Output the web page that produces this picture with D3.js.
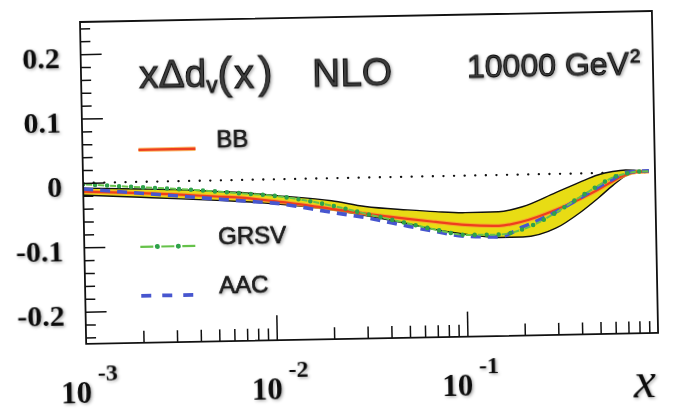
<!DOCTYPE html>
<html>
<head>
<meta charset="utf-8">
<script src="https://cdn.jsdelivr.net/npm/d3@7"></script>
<style>
  html, body { margin: 0; padding: 0; background: #fff; }
  svg { display: block; }
</style>
</head>
<body>
<svg id="chart" width="673" height="410"></svg>
<script>
// x grid shared by all curves
const xValues = [0.001, 0.002, 0.003, 0.005, 0.007, 0.01, 0.02, 0.03, 0.05, 0.07,
                 0.1, 0.15, 0.2, 0.3, 0.4, 0.5, 0.6, 0.7, 0.8, 0.93];

// x*Delta d_v(x) at Q^2 = 10000 GeV^2
const bbValues   = [-0.0135, -0.0175, -0.0205, -0.025, -0.028, -0.034, -0.0475, -0.056, -0.0655, -0.071,
                    -0.0765, -0.079, -0.073, -0.0557, -0.040, -0.026, -0.013, -0.0034, 0.0005, 0.001];
const grsvValues = [-0.002, -0.0084, -0.0118, -0.0172, -0.0212, -0.0256, -0.0425, -0.056, -0.0725, -0.083,
                    -0.092, -0.0925, -0.085, -0.060, -0.037, -0.020, -0.0072, -0.0018, 0.001, 0.0015];
const aacValues  = [-0.0093, -0.0177, -0.0226, -0.0288, -0.0329, -0.037, -0.053, -0.0623, -0.0767, -0.086,
                    -0.0941, -0.096, -0.0815, -0.059, -0.0386, -0.022, -0.0097, -0.0001, 0.0015, 0.002];

// BB uncertainty band
const bandLower  = [-0.019, -0.024, -0.027, -0.031, -0.034, -0.038, -0.049, -0.059, -0.073, -0.083,
                    -0.091, -0.097, -0.097, -0.084, -0.061, -0.039, -0.0195, -0.005, 0.000, 0.001];
const bandUpper  = [-0.008, -0.011, -0.013, -0.017, -0.020, -0.025, -0.035, -0.045, -0.0515, -0.055,
                    -0.0575, -0.057, -0.050, -0.029, -0.014, -0.003, 0.002, 0.004, 0.003, 0.0015];

// axis ticks and labels
const yMajorTicks = [-0.2, -0.1, 0, 0.1, 0.2];
const xMajorTicks = [0.001, 0.01, 0.1];
const xTickExponents = ["-3", "-2", "-1"];
const legendLabels = ["BB", "GRSV", "AAC"];

const W = 572, H = 322;
const svg = d3.select("#chart");
const defs = svg.append("defs");
defs.append("filter").attr("id", "shadow")
  .attr("x", "-20%").attr("y", "-30%").attr("width", "140%").attr("height", "160%")
  .append("feDropShadow")
  .attr("dx", 1.3).attr("dy", 1.3).attr("stdDeviation", 1.4)
  .attr("flood-color", "#000").attr("flood-opacity", 0.35);
defs.append("clipPath").attr("id", "plotClip")
  .append("rect").attr("width", W).attr("height", H);

// whole frame sits slightly tilted on the page
const g = svg.append("g").attr("transform", "translate(80,22) rotate(-1.1)");

const x = d3.scaleLog().domain([1e-3, 1]).range([0, W]);
const y = d3.scaleLinear().domain([-0.25, 0.25]).range([H, 0]);

const COLORS = { bb: "#ee3e1e", bbGlow: "#f8a030", grsvDot: "#2ea24a", grsvDash: "#66c24a",
                 aac: "#4756cf", band: "#e8dc14" };

// ---- plot content ----
const plot = g.append("g").attr("clip-path", "url(#plotClip)");

// zero reference line
plot.append("line")
  .attr("x1", 0).attr("x2", W).attr("y1", y(0)).attr("y2", y(0))
  .attr("stroke", "#111").attr("stroke-width", 2.3)
  .attr("stroke-dasharray", "0.1 10.5").attr("stroke-linecap", "round");

const idx = d3.range(xValues.length);
const band = d3.area()
  .x(i => x(xValues[i]))
  .y0(i => y(bandLower[i]))
  .y1(i => y(bandUpper[i]))
  .curve(d3.curveMonotoneX);
plot.append("path").attr("d", band(idx)).attr("fill", COLORS.band);

const lineOf = arr => d3.line()
  .x(i => x(xValues[i]))
  .y(i => y(arr[i]))
  .curve(d3.curveMonotoneX)(idx);

[bandUpper, bandLower].forEach(arr => {
  plot.append("path").attr("d", lineOf(arr))
    .attr("fill", "none").attr("stroke", "#111").attr("stroke-width", 1.4);
});

// BB
const bbPath = lineOf(bbValues);
plot.append("path").attr("d", bbPath)
  .attr("fill", "none").attr("stroke", COLORS.bbGlow).attr("stroke-width", 4.2).attr("opacity", 0.8);
plot.append("path").attr("d", bbPath)
  .attr("fill", "none").attr("stroke", COLORS.bb).attr("stroke-width", 2.2);

// AAC
plot.append("path").attr("d", lineOf(aacValues))
  .attr("fill", "none").attr("stroke", COLORS.aac).attr("stroke-width", 3.6)
  .attr("stroke-dasharray", "10 7");

// GRSV: light dashes with round dots between
const grsvPath = lineOf(grsvValues);
plot.append("path").attr("d", grsvPath)
  .attr("fill", "none").attr("stroke", COLORS.grsvDash).attr("stroke-width", 2)
  .attr("stroke-dasharray", "6 6").attr("stroke-dashoffset", 9);
plot.append("path").attr("d", grsvPath)
  .attr("fill", "none").attr("stroke", COLORS.grsvDot).attr("stroke-width", 4.6)
  .attr("stroke-dasharray", "0 12").attr("stroke-linecap", "round");

// ---- axes ----
const styleTicks = sel => {
  sel.select(".domain").remove();
  sel.selectAll(".tick line").attr("stroke", "#111").attr("stroke-width", 1.5);
};

const yMinor = d3.range(-12, 13).filter(i => i % 5 !== 0).map(i => i * 0.02);
g.append("g")
  .call(d3.axisLeft(y).tickValues(yMinor).tickSize(-10).tickFormat(""))
  .call(styleTicks);
g.append("g")
  .call(d3.axisLeft(y).tickValues(yMajorTicks).tickSize(-21).tickPadding(21)
    .tickFormat(d => d === 0 ? "0" : d.toFixed(1)))
  .call(styleTicks)
  .call(sel => sel.selectAll(".tick text")
    .attr("dy", "0.42em")
    .attr("fill", "#111")
    .attr("font-family", "'Liberation Serif', 'Times New Roman', serif")
    .attr("font-weight", "bold")
    .attr("font-size", 30)
    .attr("filter", "url(#shadow)"));

const xMinor = xMajorTicks.flatMap(d => d3.range(2, 10).map(k => k * d));
g.append("g").attr("transform", `translate(0,${H})`)
  .call(d3.axisBottom(x).tickValues(xMinor).tickSize(-12).tickFormat(""))
  .call(styleTicks);
g.append("g").attr("transform", `translate(0,${H})`)
  .call(d3.axisBottom(x).tickValues(xMajorTicks.slice(1)).tickSize(-25).tickFormat(""))
  .call(styleTicks);

// decade labels 10^n
const xl = g.append("g")
  .attr("font-family", "'Liberation Serif', 'Times New Roman', serif")
  .attr("font-weight", "bold").attr("fill", "#111").attr("filter", "url(#shadow)");
xMajorTicks.forEach((d, i) => {
  const t = xl.append("text").attr("x", x(d) - 26).attr("y", H + 59).attr("font-size", 31);
  t.append("tspan").text("10");
  t.append("tspan").attr("dx", 6).attr("dy", -22).attr("font-size", 24).text(xTickExponents[i]);
});

// axis title x
g.append("text")
  .attr("x", W - 3).attr("y", H + 64)
  .attr("text-anchor", "end")
  .attr("font-family", "'Liberation Serif', 'Times New Roman', serif")
  .attr("font-style", "italic").attr("font-size", 50)
  .attr("fill", "#111").attr("filter", "url(#shadow)")
  .text("x");

// frame
g.append("rect").attr("width", W).attr("height", H)
  .attr("fill", "none").attr("stroke", "#111").attr("stroke-width", 1.8);

// ---- titles ----
const titleStyle = sel => sel
  .attr("font-family", "'Liberation Sans', Arial, sans-serif")
  .attr("fill", "#3c3c3c").attr("stroke", "#000").attr("stroke-width", 0.9)
  .attr("filter", "url(#shadow)");

const t1 = g.append("text").attr("x", 58).attr("y", 67).attr("font-size", 39).call(titleStyle);
t1.append("tspan").text("x\u0394d");
t1.append("tspan").attr("font-size", 22).attr("dy", 6).text("v");
t1.append("tspan").attr("font-size", 44).attr("dy", -4).text("(");
t1.append("tspan").attr("font-size", 40).attr("dx", 2).text("x");
t1.append("tspan").attr("font-size", 44).attr("dx", 4).text(")");

g.append("text").attr("x", 231).attr("y", 69).attr("font-size", 39).call(titleStyle).text("NLO");

const t3 = g.append("text").attr("x", 386).attr("y", 63).attr("font-size", 32).call(titleStyle);
t3.append("tspan").text("10000 GeV");
t3.append("tspan").attr("font-size", 19).attr("dy", -12).attr("dx", 1).text("2");

// ---- legend ----
const legend = g.append("g");
const legendRows = [
  { v: 129, draw: (sel) => {
      sel.append("line").attr("stroke", COLORS.bbGlow).attr("stroke-width", 4.4).attr("opacity", 0.7);
      sel.append("line").attr("stroke", COLORS.bb).attr("stroke-width", 2.4);
    } },
  { v: 226, draw: (sel) => {
      sel.append("line").attr("stroke", COLORS.grsvDash).attr("stroke-width", 2.2)
        .attr("stroke-dasharray", "13 8").attr("stroke-dashoffset", 0);
      sel.append("line").attr("stroke", COLORS.grsvDot).attr("stroke-width", 5)
        .attr("stroke-dasharray", "0 21").attr("stroke-dashoffset", -17)
        .attr("stroke-linecap", "round");
    } },
  { v: 275, draw: (sel) => sel.append("line").attr("stroke", COLORS.aac).attr("stroke-width", 3.8)
        .attr("stroke-dasharray", "10 11") }
];
legendRows.forEach((row, i) => {
  const r = legend.append("g");
  row.draw(r);
  r.selectAll("line").attr("x1", 56).attr("x2", 113).attr("y1", row.v).attr("y2", row.v);
  r.append("text")
    .attr("x", 134).attr("y", row.v - 1)
    .attr("font-family", "'Liberation Sans', Arial, sans-serif")
    .attr("font-size", 24)
    .attr("fill", "#222").attr("stroke", "#000").attr("stroke-width", 0.6)
    .attr("filter", "url(#shadow)")
    .text(legendLabels[i]);
});
</script>
</body>
</html>
